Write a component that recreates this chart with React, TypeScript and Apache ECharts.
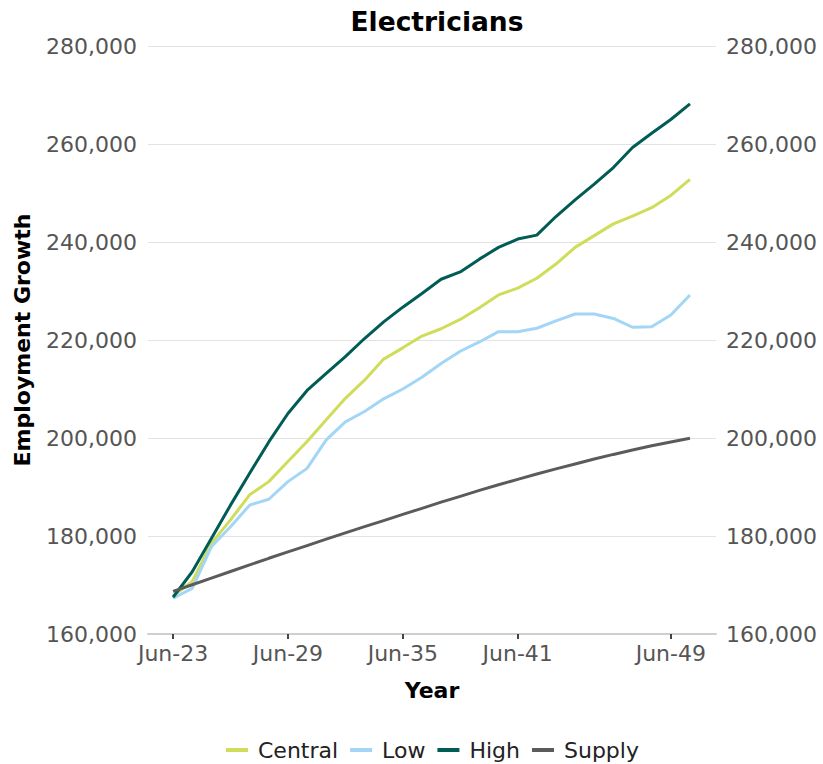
import React, { useEffect, useRef } from "react";
import * as echarts from "echarts";

const years = [2023, 2024, 2025, 2026, 2027, 2028, 2029, 2030, 2031, 2032, 2033, 2034, 2035, 2036, 2037, 2038, 2039, 2040, 2041, 2042, 2043, 2044, 2045, 2046, 2047, 2048, 2049, 2050];

const central = [167800, 170700, 178500, 183300, 188400, 191100, 195200, 199300, 203700, 208100, 211800, 216100, 218400, 220800, 222300, 224200, 226600, 229200, 230600, 232600, 235500, 238900, 241300, 243700, 245300, 247000, 249500, 252800];
const low = [167300, 169300, 177800, 181900, 186300, 187500, 191100, 193800, 199600, 203300, 205400, 208000, 210000, 212400, 215200, 217700, 219600, 221700, 221700, 222400, 223900, 225300, 225300, 224400, 222600, 222700, 225100, 229200];
const high = [167500, 172700, 179500, 186300, 192800, 199200, 205000, 209700, 213200, 216600, 220300, 223700, 226700, 229500, 232400, 233900, 236500, 238900, 240600, 241400, 245200, 248600, 251800, 255200, 259300, 262200, 265000, 268200];
const supply = [168700, 170050, 171400, 172750, 174100, 175450, 176750, 178050, 179350, 180650, 181900, 183150, 184400, 185650, 186900, 188100, 189300, 190450, 191550, 192650, 193700, 194700, 195700, 196650, 197550, 198400, 199200, 199950];

const labelYears = [2023, 2029, 2035, 2041, 2049];
const seriesNames = ["Central", "Low", "High", "Supply"];
const seriesColors = ["#cfdd5b", "#a3d6f6", "#005c54", "#5b5b5b"];

const FONT = "DejaVu Sans";

export default function App() {
  const ref = useRef<HTMLDivElement>(null);
  useEffect(() => {
    document.body.style.margin = "0";
    if (!ref.current) return;
    const chart = echarts.init(ref.current, undefined, { renderer: "svg" });
    const all = [central, low, high, supply];
    const fmt = (v: number) => v.toLocaleString("en-US");
    const yAxisBase = {
      type: "value",
      min: 160000,
      max: 280000,
      interval: 20000,
      axisLine: { show: false },
      axisTick: { show: false },
    };
    chart.setOption({
      animation: false,
      backgroundColor: "#ffffff",
      textStyle: { fontFamily: FONT },
      title: {
        text: "Electricians",
        left: 432,
        textAlign: "center",
        top: 3,
        textStyle: { fontFamily: FONT, fontSize: 26.5, fontWeight: "bold", color: "#000" },
      },
      legend: {
        data: seriesNames,
        left: 221,
        top: 734,
        padding: 5,
        icon: "rect",
        itemWidth: 22,
        itemHeight: 4,
        itemGap: 12,
        textStyle: { fontFamily: FONT, fontSize: 22, color: "#222", padding: [0, 0, 0, 5] },
      },
      grid: { left: 148, right: 107, top: 46, bottom: 130 },
      xAxis: {
        type: "value",
        min: 2021.69,
        max: 2051.36,
        name: "Year",
        nameLocation: "middle",
        nameGap: 45,
        nameTextStyle: { fontFamily: FONT, fontSize: 22, fontWeight: "bold", color: "#000" },
        splitLine: { show: false },
        axisLine: { show: true, lineStyle: { color: "#cfcfcf", width: 2 } },
        axisTick: { show: true, customValues: labelYears, length: 5, lineStyle: { color: "#444", width: 2 } },
        axisLabel: {
          customValues: labelYears,
          margin: 8,
          fontFamily: FONT,
          fontSize: 22,
          color: "#555",
          formatter: (v: number) => "Jun-" + String(Math.round(v)).slice(2),
        },
      },
      yAxis: [
        {
          ...yAxisBase,
          position: "left",
          name: "Employment Growth",
          nameLocation: "middle",
          nameRotate: 90,
          nameGap: 115,
          nameTextStyle: { fontFamily: FONT, fontSize: 22, fontWeight: "bold", color: "#000" },
          splitLine: { show: true, lineStyle: { color: "#e2e2e2", width: 1 } },
          axisLabel: { margin: 11, fontFamily: FONT, fontSize: 22, color: "#555", formatter: fmt },
        },
        {
          ...yAxisBase,
          position: "right",
          splitLine: { show: false },
          axisLabel: { margin: 10, fontFamily: FONT, fontSize: 22, color: "#555", formatter: fmt },
        },
      ],
      series: seriesNames.map((name, k) => ({
        name,
        type: "line",
        yAxisIndex: 0,
        showSymbol: false,
        symbol: "none",
        z: k === 3 ? 4 : 3 + (k === 2 ? 1 : 0),
        lineStyle: { color: seriesColors[k], width: 3 },
        itemStyle: { color: seriesColors[k] },
        data: years.map((y, i) => [y, all[k][i]]),
      })),
    });
    return () => chart.dispose();
  }, []);
  return <div ref={ref} style={{ width: 823, height: 764 }} />;
}
